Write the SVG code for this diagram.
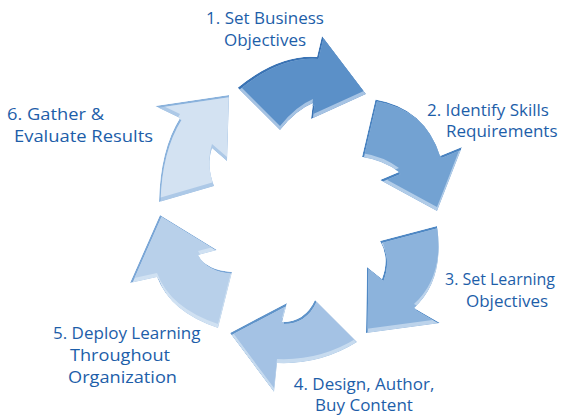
<svg xmlns="http://www.w3.org/2000/svg" width="564" height="415" viewBox="0 0 564 415">
<style>
.lbl{font-family:"Open Sans","Noto Sans","Liberation Sans",sans-serif;font-size:17px;fill:#1d5ea9}
</style>
<defs>
<path id="p1" d="M237.7,87.7 Q279,54 317,57 L322,36 L366,94 L311,119 L313,103 Q296,110 280,130 Z"/>
<path id="p2" d="M375.5,99.5 Q425,108 440,156 L462,147 L437,211 L380,180 L399,172 Q383,160 362,157 Z"/>
<path id="p3" d="M380,241 L437,226 Q445,280 414,308 L440,323 L366,333 L367,267 L382,279 Q390,258 380,241 Z"/>
<path id="p4" d="M230,333 L287,303 L282,322 Q305,322 315,300 L357,342 Q320,365 277,363 L274,392 Z"/>
<path id="p5" d="M160,215 L217,250 L198,255 Q206,270 232,272 L218,328 Q170,312 157,277 L130,283 Z"/>
<path id="p6" d="M229,95 L155,106 L180,118 Q160,150 159,202 L214,186 Q206,165 212,148 L227,161 Z"/>
<clipPath id="c1"><use href="#p1"/></clipPath>
<clipPath id="s1"><use href="#p1" transform="translate(1.5,2)"/></clipPath>
<clipPath id="c2"><use href="#p2"/></clipPath>
<clipPath id="s2"><use href="#p2" transform="translate(1.5,2)"/></clipPath>
<clipPath id="c3"><use href="#p3"/></clipPath>
<clipPath id="s3"><use href="#p3" transform="translate(1.5,2)"/></clipPath>
<clipPath id="c4"><use href="#p4"/></clipPath>
<clipPath id="s4"><use href="#p4" transform="translate(1.5,2)"/></clipPath>
<clipPath id="c5"><use href="#p5"/></clipPath>
<clipPath id="s5"><use href="#p5" transform="translate(1.5,2)"/></clipPath>
<clipPath id="c6"><use href="#p6"/></clipPath>
<clipPath id="s6"><use href="#p6" transform="translate(1.5,2)"/></clipPath>
</defs>
<rect width="564" height="415" fill="#ffffff"/>
<g id="connectors">
<g id="arrow1" clip-path="url(#c1)">
<use href="#p1" fill="#3a73b4"/>
<use href="#p1" fill="#a6c3e3" transform="translate(1.5,2)"/>
<g clip-path="url(#s1)"><use href="#p1" fill="#5b90c8" transform="translate(0,-4)"/></g>
</g>
<g id="arrow2" clip-path="url(#c2)">
<use href="#p2" fill="#4a83c0"/>
<use href="#p2" fill="#b1cce8" transform="translate(1.5,2)"/>
<g clip-path="url(#s2)"><use href="#p2" fill="#73a2d2" transform="translate(0,-4)"/></g>
</g>
<g id="arrow3" clip-path="url(#c3)">
<use href="#p3" fill="#4f88c4"/>
<use href="#p3" fill="#bcd3eb" transform="translate(1.5,2)"/>
<g clip-path="url(#s3)"><use href="#p3" fill="#8cb3dc" transform="translate(0,-4)"/></g>
</g>
<g id="arrow4" clip-path="url(#c4)">
<use href="#p4" fill="#5f93c9"/>
<use href="#p4" fill="#c7dbef" transform="translate(1.5,2)"/>
<g clip-path="url(#s4)"><use href="#p4" fill="#a4c2e4" transform="translate(0,-4)"/></g>
</g>
<g id="arrow5" clip-path="url(#c5)">
<use href="#p5" fill="#7aa6d6"/>
<use href="#p5" fill="#d0e1f2" transform="translate(1.5,2)"/>
<g clip-path="url(#s5)"><use href="#p5" fill="#b8d0ea" transform="translate(0,-4)"/></g>
</g>
<g id="arrow6" clip-path="url(#c6)">
<use href="#p6" fill="#8ab2dc"/>
<use href="#p6" fill="#adc9e7" transform="translate(1.5,2)"/>
<g clip-path="url(#s6)"><use href="#p6" fill="#d3e2f2" transform="translate(0,-4)"/></g>
</g>
</g>
<g id="step1"><text class="lbl" text-anchor="middle" x="265" y="24">1. Set Business</text><text class="lbl" text-anchor="middle" x="265" y="46">Objectives</text></g>
<g id="step2"><text class="lbl" x="427" y="116">2. Identify Skills</text><text class="lbl" x="446" y="137">Requirements</text></g>
<g id="step3"><text class="lbl" x="445" y="285" textLength="110" lengthAdjust="spacingAndGlyphs">3. Set Learning</text><text class="lbl" x="466" y="307">Objectives</text></g>
<g id="step4"><text class="lbl" text-anchor="middle" x="364" y="390">4. Design, Author,</text><text class="lbl" text-anchor="middle" x="364" y="411">Buy Content</text></g>
<g id="step5"><text class="lbl" x="53" y="339">5. Deploy Learning</text><text class="lbl" x="70" y="361" textLength="100" lengthAdjust="spacingAndGlyphs">Throughout</text><text class="lbl" x="68" y="383" textLength="109" lengthAdjust="spacingAndGlyphs">Organization</text></g>
<g id="step6"><text class="lbl" x="7" y="120" textLength="97" lengthAdjust="spacingAndGlyphs">6. Gather &amp;</text><text class="lbl" x="14" y="142" textLength="139" lengthAdjust="spacingAndGlyphs">Evaluate Results</text></g>
</svg>
